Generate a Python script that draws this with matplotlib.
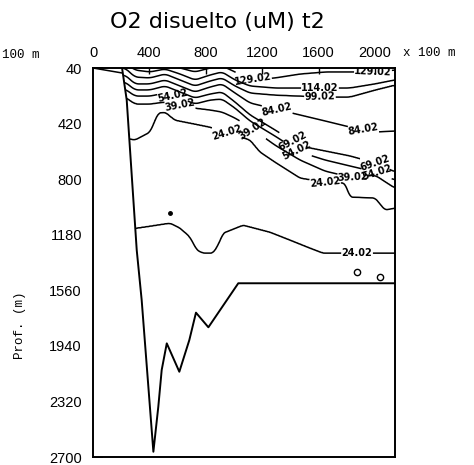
import numpy as np
import matplotlib
matplotlib.use("Agg")
import matplotlib.pyplot as plt

# ---------------- data (x in units of 100 m, depth in m) ----------------
title = "O2 disuelto (uM) t2"
levels = [24.02, 39.02, 54.02, 69.02, 84.02, 99.02, 114.02, 129.02]

x_ticks = [0, 400, 800, 1200, 1600, 2000]
depth_ticks = [40, 420, 800, 1180, 1560, 1940, 2320, 2700]
depth_minor = [230, 610, 990, 1370, 1750, 2130, 2510]

# stations where upper isolines were read
st_x = [227, 298, 404, 511, 617, 723, 830, 915, 1007, 1113, 1290, 1468, 1645, 1822, 2000, 2141]
z_129 = [-15, 0, 26, 12, 40, 67, 40, 26, 67, 122, 108, 81, 67, 67, 67, 54]
z_114 = [6, 54, 67, 47, 81, 122, 88, 67, 122, 163, 177, 177, 177, 177, 149, 122]
z_99 = [40, 102, 108, 81, 122, 163, 129, 108, 163, 211, 225, 232, 238, 238, 190, 156]
z_84 = [88, 149, 149, 122, 163, 204, 170, 149, 211, 279, 320, 361, 402, 444, 478, 471]
z_69 = [136, 190, 190, 163, 204, 245, 218, 204, 273, 361, 464, 574, 608, 642, 690, 751]
z_54 = [184, 232, 232, 211, 245, 286, 259, 252, 314, 402, 505, 615, 669, 710, 751, 806]
z_39 = [238, 286, 286, 273, 293, 314, 327, 341, 382, 444, 567, 669, 745, 786, 772, 861]

# upper 24.02 isoline (top of oxygen minimum)
x_24u = [227, 298, 404, 461, 511, 581, 723, 830, 971, 1113, 1184, 1290, 1468, 1645, 1787, 1822, 2000, 2070, 2141]
z_24u = [519, 532, 478, 348, 341, 396, 423, 444, 485, 532, 614, 683, 792, 820, 827, 922, 929, 1011, 998]

# lower 24.02 isoline (bottom of oxygen minimum)
x_24l = [262, 404, 546, 617, 688, 737, 780, 851, 886, 922, 1064, 1255, 1397, 1539, 1631, 1872, 2141]
z_24l = [1141, 1121, 1100, 1134, 1196, 1285, 1305, 1305, 1251, 1169, 1114, 1162, 1216, 1271, 1305, 1305, 1305]

o2_surface = 144.0
o2_core = 15.0
o2_bottom = 32.0

# bathymetry / section boundary
shelf_x = [0, 206]
shelf_z = [40, 74]
bath_x = [206, 239, 310, 345, 428, 463, 487, 523, 612, 683, 730, 818, 1030, 2141]
bath_z = [40, 259, 1285, 1626, 2664, 2356, 2105, 1923, 2117, 1900, 1713, 1813, 1512, 1512]

# small closed isolines near the bottom and a tiny spot
loop_x = [1872, 2035]
loop_z = [1435, 1470]
spot_x = [546]
spot_z = [1032]

# label positions
label_pos = [(1134, 122), (1985, 67), (1609, 177), (1609, 238), (1305, 327), (1914, 478),
             (1418, 532), (2000, 690), (1446, 601), (2014, 751), (617, 293), (1134, 460),
             (1843, 786), (950, 478), (1645, 820), (1872, 1305), (567, 225)]

# ---------------- build field from isolines ----------------
xg = np.linspace(0, 2141, 500)
zg = np.linspace(0, 2750, 700)


def iso_depth(xs, zs, win=13):
    z = np.interp(xg, xs, zs)
    k = np.ones(win) / win
    zp = np.concatenate([np.full(win, z[0]), z, np.full(win, z[-1])])
    return np.convolve(zp, k, mode="same")[win:-win]


iso = [iso_depth(st_x, zz) for zz in [z_129, z_114, z_99, z_84, z_69, z_54, z_39]]
iso_vals = [129.02, 114.02, 99.02, 84.02, 69.02, 54.02, 39.02]
zu_all = iso_depth(x_24u, z_24u, 9)
zl_all = iso_depth(x_24l, z_24l, 9)

Z = np.zeros((zg.size, xg.size))
for j in range(xg.size):
    dz = [d[j] for d in iso]
    zu, zl = zu_all[j], zl_all[j]
    nodes = [dz[0] - 60] + dz + [zu, 0.5 * (zu + zl), zl, 2800]
    vals = [o2_surface] + iso_vals + [24.02, o2_core, 24.02, o2_bottom]
    Z[:, j] = np.interp(zg, nodes, vals)

# ---------------- figure ----------------
fig = plt.figure(figsize=(4.74, 4.65), dpi=100)
ax = fig.add_axes([93 / 474, 8 / 465, 302 / 474, 389 / 465])

cs = ax.contour(xg, zg, Z, levels=levels, colors="black", linewidths=1.1, zorder=2)
ax.clabel(cs, manual=label_pos, fmt="%.2f", inline=True, inline_spacing=2,
          fontsize=7, colors="black")
for t in cs.labelTexts:
    t.set_fontweight("bold")

# mask outside section
mask_x = [0] + bath_x + [2141, 0]
mask_z = [40] + bath_z + [2700, 2700]
ax.fill(mask_x, mask_z, color="white", zorder=2.5, lw=0)
ax.plot(bath_x, bath_z, color="black", lw=1.4, zorder=3)
ax.plot(shelf_x, shelf_z, color="black", lw=1.1, zorder=3)
ax.plot(loop_x, loop_z, ls="none", marker="o", ms=4.5, mfc="none", mec="black", mew=1.0, zorder=3)
ax.plot(spot_x, spot_z, ls="none", marker="o", ms=2.5, color="black", zorder=3)

ax.set_xlim(0, 2141)
ax.set_ylim(2700, 40)
ax.xaxis.tick_top()
ax.set_xticks(x_ticks)
ax.set_yticks(depth_ticks)
ax.set_yticks(depth_minor, minor=True)
ax.tick_params(axis="x", which="both", direction="in", length=4, width=1.0,
               top=True, bottom=False, pad=6, labelsize=10.5)
ax.tick_params(axis="y", which="both", direction="in", length=7, width=1.3,
               left=True, right=False, pad=8, labelsize=10.5)
for lab in ax.get_xticklabels() + ax.get_yticklabels():
    lab.set_fontfamily("Liberation Sans")
for s in ax.spines.values():
    s.set_linewidth(1.4)

fig.text(217 / 474, 1 - 22 / 465, title, ha="center", va="center",
         fontsize=16, family="DejaVu Sans")
fig.text(2 / 474, 1 - 55 / 465, "100 m", ha="left", va="center",
         fontsize=9, family="Liberation Mono")
fig.text(403 / 474, 1 - 53 / 465, "x 100 m", ha="left", va="center",
         fontsize=9, family="Liberation Mono")
fig.text(20 / 474, 1 - 325 / 465, "Prof. (m)", ha="center", va="center",
         rotation=90, fontsize=9, family="Liberation Mono")

fig.savefig("out.png", dpi=100)
